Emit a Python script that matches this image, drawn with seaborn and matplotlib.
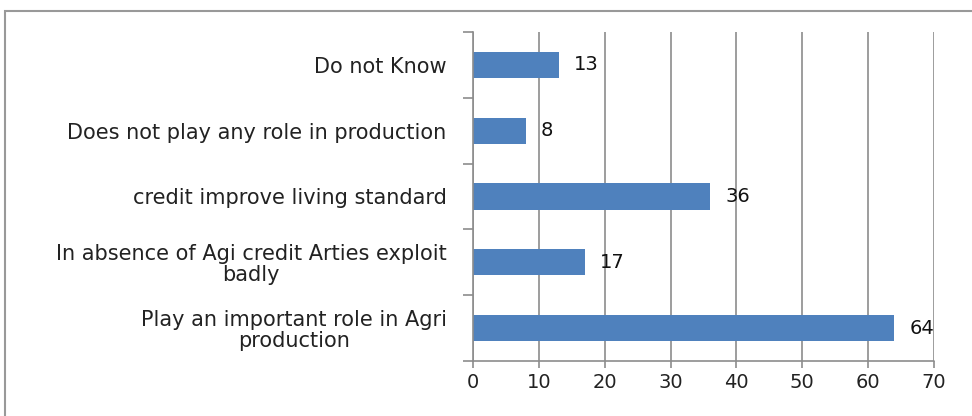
import seaborn as sns
import matplotlib.pyplot as plt
from matplotlib.patches import Rectangle
from matplotlib.ticker import FixedLocator

categories = [
    "Do not Know",
    "Does not play any role in production",
    "credit improve living standard",
    "In absence of Agi credit Arties exploit\nbadly",
    "Play an important role in Agri\nproduction",
]
values = [13, 8, 36, 17, 64]
xticks = [0, 10, 20, 30, 40, 50, 60, 70]

sns.set_style("white")
plt.rcParams["font.family"] = ["DejaVu Sans"]

fig = plt.figure(figsize=(9.72, 4.16), dpi=100)
ax = fig.add_axes([473 / 972, 1 - 361 / 416, (934 - 473) / 972, (361 - 32) / 416])

sns.barplot(x=values, y=categories, color="#4F81BD", width=0.4, saturation=1,
            edgecolor="none", ax=ax)

grey = "#8c8c8c"
ax.set_xlim(0, 70)
ax.set_ylim(4.5, -0.5)
ax.grid(axis="x", color=grey, linewidth=1.2)
ax.set_axisbelow(True)

for s in ["top", "right", "bottom"]:
    ax.spines[s].set_visible(False)
ax.spines["left"].set_color(grey)
ax.spines["left"].set_linewidth(1.2)
ax.axhline(4.5, color=grey, linewidth=1.2, clip_on=False)

ax.set_xticks(xticks)
ax.set_xticklabels([str(t) for t in xticks], fontsize=14, color="#222222")
ax.tick_params(axis="x", length=5, width=1.2, color=grey, pad=4, bottom=True)

ax.yaxis.set_minor_locator(FixedLocator([-0.5, 0.5, 1.5, 2.5, 3.5, 4.5]))
ax.tick_params(axis="y", which="major", length=0, pad=19, labelsize=15,
               labelcolor="#222222")
ax.tick_params(axis="y", which="minor", length=7, width=1.2, color=grey, left=True)
for lab in ax.get_yticklabels():
    lab.set_multialignment("center")
    lab.set_linespacing(1.05)

ax.set_xlabel("")
ax.set_ylabel("")

for bar, v in zip(ax.patches, values):
    ax.annotate(str(v), (bar.get_width(), bar.get_y() + bar.get_height() / 2),
                xytext=(11, 0), textcoords="offset points", va="center", ha="left",
                fontsize=14, color="#111111")

fig.patches.append(Rectangle((5 / 972, -0.1), 1.1, 0.1 + 1 - 11 / 416,
                             transform=fig.transFigure, fill=False,
                             edgecolor="#999999", linewidth=1.5))

fig.savefig("out.png", dpi=100)
